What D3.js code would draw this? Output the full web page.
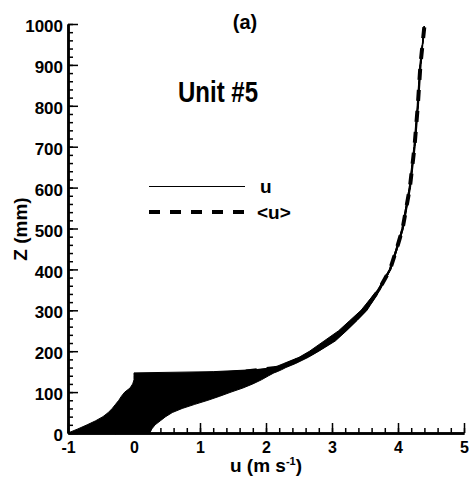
<!DOCTYPE html>
<html>
<head>
<meta charset="utf-8">
<script src="https://cdn.jsdelivr.net/npm/d3@7/dist/d3.min.js"></script>
<style>
  html, body { margin: 0; padding: 0; background: #fff; }
  svg { display: block; font-family: "Liberation Sans", Arial, Helvetica, sans-serif; font-weight: bold; }
</style>
</head>
<body>
<svg id="chart" width="469" height="483"></svg>
<script>
// Heights (mm) at which the velocity profiles are sampled
const zLevels = [0, 10, 20, 30, 40, 50, 60, 70, 80, 90, 100, 110, 120, 130, 140, 147, 150, 155, 160, 170, 185, 200, 225, 250, 275, 300, 350, 400, 450, 500, 600, 700, 800, 900, 995];

// Instantaneous streamwise velocity profiles u (m/s)
const u1 = [-1.00, -0.85, -0.71, -0.58, -0.47, -0.39, -0.33, -0.28, -0.23, -0.19, -0.14, -0.06, -0.02, 0.00, 0.00, 0.00, 1.20, 1.85, 2.12, 2.27, 2.50, 2.66, 2.88, 3.10, 3.27, 3.44, 3.69, 3.87, 3.97, 4.06, 4.17, 4.24, 4.29, 4.33, 4.40];
const u2 = [-0.80, -0.66, -0.52, -0.40, -0.30, -0.22, -0.15, -0.08, -0.02, 0.04, 0.10, 0.18, 0.30, 0.50, 0.75, 0.95, 1.45, 1.95, 2.16, 2.30, 2.52, 2.69, 2.92, 3.13, 3.30, 3.46, 3.70, 3.87, 3.97, 4.06, 4.17, 4.25, 4.30, 4.34, 4.40];
const u3 = [-0.60, -0.48, -0.36, -0.26, -0.16, -0.08, 0.00, 0.08, 0.16, 0.25, 0.35, 0.48, 0.64, 0.85, 1.10, 1.35, 1.60, 1.98, 2.18, 2.33, 2.54, 2.71, 2.94, 3.14, 3.31, 3.47, 3.70, 3.88, 3.98, 4.07, 4.18, 4.25, 4.30, 4.34, 4.40];
const u4 = [-0.40, -0.30, -0.20, -0.10, -0.01, 0.08, 0.17, 0.27, 0.38, 0.50, 0.62, 0.76, 0.92, 1.10, 1.32, 1.52, 1.70, 2.02, 2.20, 2.35, 2.56, 2.73, 2.96, 3.16, 3.33, 3.49, 3.71, 3.88, 3.98, 4.07, 4.18, 4.25, 4.30, 4.34, 4.40];
const u5 = [-0.20, -0.12, -0.03, 0.06, 0.15, 0.25, 0.36, 0.48, 0.60, 0.73, 0.87, 1.02, 1.18, 1.36, 1.55, 1.70, 1.82, 2.06, 2.22, 2.38, 2.58, 2.75, 2.99, 3.18, 3.34, 3.50, 3.71, 3.88, 3.98, 4.07, 4.18, 4.25, 4.30, 4.34, 4.40];
const u6 = [0.00, 0.06, 0.13, 0.21, 0.30, 0.40, 0.52, 0.65, 0.80, 0.95, 1.10, 1.25, 1.42, 1.60, 1.78, 1.90, 1.96, 2.12, 2.25, 2.40, 2.60, 2.77, 3.01, 3.19, 3.35, 3.51, 3.72, 3.89, 3.98, 4.07, 4.18, 4.25, 4.30, 4.34, 4.40];
const u7 = [0.12, 0.17, 0.23, 0.31, 0.40, 0.50, 0.63, 0.79, 0.96, 1.13, 1.30, 1.47, 1.64, 1.80, 1.93, 2.03, 2.08, 2.18, 2.27, 2.42, 2.62, 2.79, 3.03, 3.21, 3.37, 3.52, 3.72, 3.89, 3.99, 4.08, 4.18, 4.25, 4.30, 4.34, 4.40];
const u8 = [0.24, 0.27, 0.32, 0.40, 0.48, 0.58, 0.73, 0.92, 1.12, 1.30, 1.47, 1.65, 1.80, 1.93, 2.04, 2.12, 2.17, 2.24, 2.30, 2.45, 2.64, 2.80, 3.05, 3.22, 3.38, 3.53, 3.73, 3.89, 3.99, 4.08, 4.19, 4.26, 4.31, 4.35, 4.40];

// Time-averaged profile <u> (m/s)
const uMean = [-0.30, -0.22, -0.12, -0.03, 0.06, 0.15, 0.24, 0.34, 0.45, 0.56, 0.68, 0.82, 0.98, 1.15, 1.35, 1.55, 1.68, 1.95, 2.20, 2.36, 2.57, 2.73, 2.97, 3.16, 3.33, 3.49, 3.71, 3.88, 3.98, 4.07, 4.18, 4.25, 4.30, 4.34, 4.40];

// Axis ticks
const xTicks = [-1, 0, 1, 2, 3, 4, 5];
const yTicks = [0, 100, 200, 300, 400, 500, 600, 700, 800, 900, 1000];

const profiles = [u1, u2, u3, u4, u5, u6, u7, u8];

const svg = d3.select("#chart");
const x = d3.scaleLinear().domain([-1, 5]).range([68, 464]);
const y = d3.scaleLinear().domain([0, 1000]).range([433, 24]);

// Shaded envelope covered by the bundle of instantaneous profiles
const band = zLevels.map((z, i) => ({
  z,
  lo: d3.min(profiles, p => p[i]),
  hi: d3.max(profiles, p => p[i])
}));
svg.append("path")
  .datum(band)
  .attr("fill", "#000")
  .attr("d", d3.area()
    .y(d => y(d.z))
    .x0(d => x(d.lo))
    .x1(d => x(d.hi)));

// Individual profiles
const line = d3.line().x(d => x(d[0])).y(d => y(d[1]));
svg.append("g")
  .selectAll("path")
  .data(profiles)
  .join("path")
  .attr("fill", "none")
  .attr("stroke", "#000")
  .attr("stroke-width", 1)
  .attr("d", p => line(p.map((u, i) => [u, zLevels[i]])));

// Mean profile, thick dashed
svg.append("path")
  .attr("fill", "none")
  .attr("stroke", "#000")
  .attr("stroke-width", 4)
  .attr("stroke-dasharray", "11,10")
  .attr("d", line(uMean.map((u, i) => [u, zLevels[i]])));

// Axes with inward ticks
const yAxis = svg.append("g").attr("transform", `translate(${x(-1)},0)`)
  .call(d3.axisLeft(y).tickValues(yTicks).tickSize(-10).tickSizeOuter(0).tickPadding(5).tickFormat(d => String(d)));
const yMinor = svg.append("g").attr("transform", `translate(${x(-1)},0)`)
  .call(d3.axisLeft(y).tickValues(d3.range(0, 1001, 20)).tickSize(-5).tickSizeOuter(0).tickFormat(""));
const xAxis = svg.append("g").attr("transform", `translate(0,${y(0)})`)
  .call(d3.axisBottom(x).tickValues(xTicks).tickSize(-10).tickSizeOuter(0).tickPadding(9).tickFormat(d => String(d)));
const xMinor = svg.append("g").attr("transform", `translate(0,${y(0)})`)
  .call(d3.axisBottom(x).tickValues(d3.range(-10, 51, 2).map(v => v / 10)).tickSize(-5).tickSizeOuter(0).tickFormat(""));

[yAxis, yMinor, xAxis, xMinor].forEach(g => {
  g.select(".domain").attr("stroke", "#000").attr("stroke-width", 2.5);
  g.selectAll(".tick line").attr("stroke", "#000").attr("stroke-width", 1.5);
  g.selectAll("text").attr("font-size", "16px").attr("font-family", null).attr("font-weight", "bold").attr("fill", "#000");
});
yAxis.selectAll("text").attr("font-size", "17px").attr("dy", "0.45em");

// Axis titles
svg.append("text")
  .attr("transform", "translate(27,229) rotate(-90)")
  .attr("text-anchor", "middle")
  .attr("font-size", "19px")
  .text("Z (mm)");

const xt = svg.append("text")
  .attr("x", 266).attr("y", 472)
  .attr("text-anchor", "middle")
  .attr("font-size", "19px");
xt.append("tspan").text("u (m s");
xt.append("tspan").attr("font-size", "11px").attr("dy", "-7").text("-1");
xt.append("tspan").attr("dy", "7").text(")");

// Panel label and unit name
svg.append("text").attr("x", 245).attr("y", 29).attr("text-anchor", "middle")
  .attr("font-size", "20px").text("(a)");
svg.append("text").attr("transform", "translate(218,102) scale(0.8,1)")
  .attr("text-anchor", "middle").attr("font-size", "30px").text("Unit #5");

// Legend
const legend = svg.append("g");
legend.append("line").attr("x1", 149).attr("x2", 245).attr("y1", 186.5).attr("y2", 186.5)
  .attr("stroke", "#000").attr("stroke-width", 1);
legend.append("text").attr("x", 260).attr("y", 193).attr("font-size", "19px").text("u");
legend.append("line").attr("x1", 149).attr("x2", 245).attr("y1", 212).attr("y2", 212)
  .attr("stroke", "#000").attr("stroke-width", 4).attr("stroke-dasharray", "11,10");
legend.append("text").attr("x", 257).attr("y", 219).attr("font-size", "19px").text("<u>");
</script>
</body>
</html>
